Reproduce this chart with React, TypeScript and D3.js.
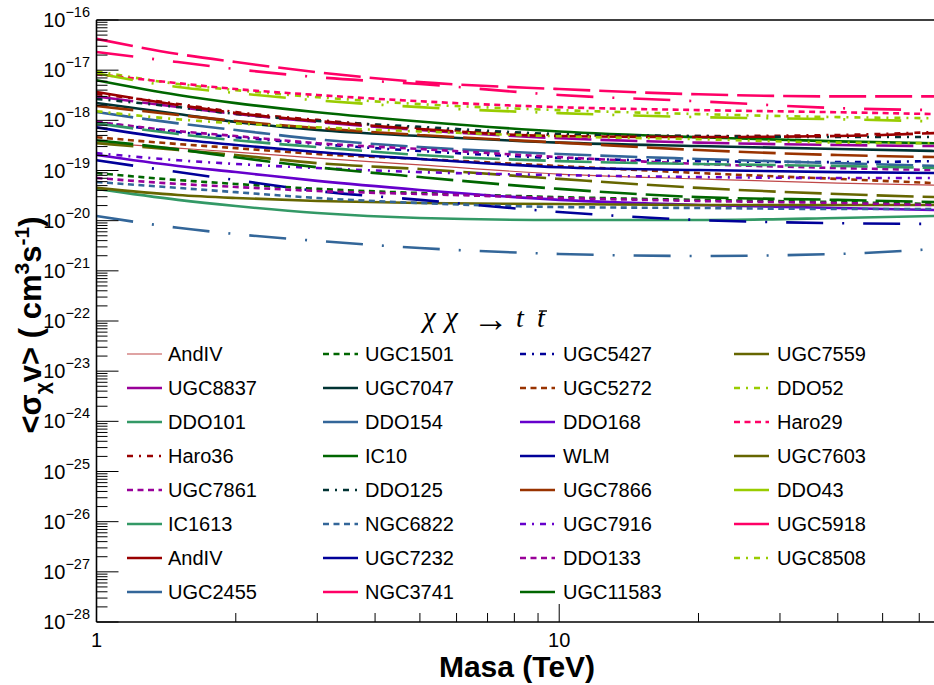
import React from "react";
import * as d3 from "d3";

// Mass grid (TeV)
const masses = [1, 1.5, 2, 3, 5, 10, 20, 40, 65];

// <sigma v> upper limits (cm^3 s^-1)
const AndIVthinVals = [3.6e-19, 2.79e-19, 2.33e-19, 1.77e-19, 1.29e-19, 8.5e-20, 6.8e-20, 5.6e-20, 5.1e-20];
const UGC1501Vals = [8.9e-20, 6.45e-20, 5.4e-20, 4.3e-20, 3.56e-20, 2.95e-20, 2.6e-20, 2.35e-20, 2.15e-20];
const UGC5427Vals = [9.3e-19, 5.85e-19, 4.6e-19, 3.37e-19, 2.45e-19, 1.77e-19, 1.54e-19, 1.47e-19, 1.54e-19];
const UGC7559Vals = [3.5e-19, 2.56e-19, 2.03e-19, 1.4e-19, 1.07e-19, 6.8e-20, 4.5e-20, 3.4e-20, 2.95e-20];
const UGC8837Vals = [2.99e-18, 1.84e-18, 1.34e-18, 9.3e-19, 6.4e-19, 4.4e-19, 3.6e-19, 3.22e-19, 3.07e-19];
const UGC7047Vals = [2.22e-18, 1.34e-18, 9.3e-19, 6.4e-19, 4.86e-19, 3.6e-19, 3.07e-19, 2.68e-19, 2.45e-19];
const UGC5272Vals = [4.6e-19, 3.37e-19, 2.79e-19, 2.13e-19, 1.7e-19, 1.23e-19, 8.9e-20, 6.8e-20, 5.6e-20];
const DDO52Vals = [9.5e-18, 5.3e-18, 4.0e-18, 2.9e-18, 2.1e-18, 1.6e-18, 1.33e-18, 1.16e-18, 1.1e-18];
const DDO101Vals = [4.3e-20, 2.6e-20, 1.96e-20, 1.42e-20, 1.13e-20, 1.03e-20, 1.03e-20, 1.13e-20, 1.24e-20];
const DDO154Vals = [1.46e-18, 8.7e-19, 6.4e-19, 4.2e-19, 2.93e-19, 2.13e-19, 1.7e-19, 1.4e-19, 1.23e-19];
const DDO168Vals = [2.03e-19, 1.23e-19, 9.3e-20, 6.2e-20, 4.1e-20, 2.6e-20, 2.05e-20, 1.79e-20, 1.63e-20];
const Haro29Vals = [8.3e-18, 5.5e-18, 4.2e-18, 3.2e-18, 2.4e-18, 1.83e-18, 1.6e-18, 1.45e-18, 1.33e-18];
const Haro36Vals = [3.35e-18, 2.12e-18, 1.46e-18, 1.02e-18, 7.0e-19, 5.1e-19, 4.86e-19, 5.1e-19, 5.85e-19];
const IC10Vals = [6.3e-18, 3.2e-18, 2.2e-18, 1.45e-18, 9.5e-19, 6.0e-19, 4.6e-19, 3.8e-19, 3.5e-19];
const WLMVals = [7.25e-19, 4.2e-19, 3.22e-19, 2.33e-19, 1.7e-19, 1.16e-19, 1.02e-19, 9.3e-20, 8.9e-20];
const UGC7603Vals = [4.5e-20, 3.25e-20, 2.83e-20, 2.47e-20, 2.25e-20, 2.15e-20, 2.05e-20, 2.05e-20, 2.05e-20];
const UGC7861Vals = [9.3e-19, 6.1e-19, 4.86e-19, 3.5e-19, 2.68e-19, 1.85e-19, 1.35e-19, 1.12e-19, 1.02e-19];
const DDO125Vals = [2.67e-18, 1.84e-18, 1.34e-18, 9.7e-19, 7.4e-19, 5.33e-19, 4.86e-19, 4.65e-19, 4.65e-19];
const UGC7866Vals = [1.93e-18, 1.28e-18, 9.7e-19, 7.0e-19, 5.1e-19, 3.6e-19, 2.56e-19, 2.03e-19, 1.85e-19];
const DDO43Vals = [8.7e-18, 4.6e-18, 3.5e-18, 2.5e-18, 1.83e-18, 1.39e-18, 1.16e-18, 1.05e-18, 9.5e-19];
const IC1613Vals = [8.7e-19, 5.33e-19, 4.0e-19, 2.93e-19, 2.03e-19, 1.54e-19, 1.35e-19, 1.23e-19, 1.12e-19];
const NGC6822Vals = [5.9e-20, 4.5e-20, 3.7e-20, 2.83e-20, 2.25e-20, 1.87e-20, 1.79e-20, 1.71e-20, 1.71e-20];
const UGC7916Vals = [2.22e-19, 1.6e-19, 1.35e-19, 1.12e-19, 9.3e-20, 8.1e-20, 7.4e-20, 7.1e-20, 7.1e-20];
const UGC5918Vals = [4.2e-17, 2.1e-17, 1.45e-17, 9.1e-18, 5.8e-18, 4.2e-18, 3.3e-18, 3.0e-18, 3.0e-18];
const AndIVVals = [3.67e-18, 2.02e-18, 1.4e-18, 9.7e-19, 6.7e-19, 4.86e-19, 4.65e-19, 4.86e-19, 5.58e-19];
const UGC7232Vals = [1.6e-19, 9.3e-20, 6.45e-20, 3.9e-20, 2.6e-20, 1.49e-20, 1.03e-20, 8.9e-21, 8.6e-21];
const DDO133Vals = [7.1e-20, 5.4e-20, 4.7e-20, 3.9e-20, 3.4e-20, 2.83e-20, 2.47e-20, 2.25e-20, 2.05e-20];
const UGC8508Vals = [1.52e-18, 1.05e-18, 8.7e-19, 7.25e-19, 6.0e-19, 4.8e-19, 4.2e-19, 3.6e-19, 3.5e-19];
const UGC2455Vals = [1.24e-20, 7.2e-21, 5.4e-21, 3.95e-21, 2.85e-21, 2.17e-21, 1.98e-21, 2.17e-21, 2.73e-21];
const NGC3741Vals = [2.3e-17, 1.45e-17, 1.05e-17, 7.25e-18, 5.3e-18, 3.2e-18, 2.4e-18, 1.75e-18, 1.6e-18];
const UGC11583Vals = [4.0e-19, 2.64e-19, 1.83e-19, 1.16e-19, 7.4e-20, 4.3e-20, 2.95e-20, 2.6e-20, 2.35e-20];

const yTickExponents = [-28, -27, -26, -25, -24, -23, -22, -21, -20, -19, -18, -17, -16];
const xMajorTicks = [1, 10];
const xMinorTicks = [2, 3, 4, 5, 6, 7, 8, 9, 20, 30, 40, 50, 60];

const DASH: Record<string, string> = {
  solid: "none",
  dash: "6 4.5",
  dashdot: "6 6 2 6",
  long: "37 9",
  longdot: "37 19 2 19",
};

type Series = { name: string; values: number[]; color: string; style: string; width?: number };

// legend order (row-major, 4 columns)
const series: Series[] = [
  { name: "AndIV", values: AndIVthinVals, color: "#c04848", style: "solid", width: 1.2 },
  { name: "UGC1501", values: UGC1501Vals, color: "#006600", style: "dash" },
  { name: "UGC5427", values: UGC5427Vals, color: "#000099", style: "dashdot" },
  { name: "UGC7559", values: UGC7559Vals, color: "#666600", style: "long" },
  { name: "UGC8837", values: UGC8837Vals, color: "#990099", style: "long" },
  { name: "UGC7047", values: UGC7047Vals, color: "#003333", style: "solid" },
  { name: "UGC5272", values: UGC5272Vals, color: "#993300", style: "dash" },
  { name: "DDO52", values: DDO52Vals, color: "#99cc00", style: "dashdot" },
  { name: "DDO101", values: DDO101Vals, color: "#339966", style: "solid" },
  { name: "DDO154", values: DDO154Vals, color: "#336699", style: "long" },
  { name: "DDO168", values: DDO168Vals, color: "#6600cc", style: "solid" },
  { name: "Haro29", values: Haro29Vals, color: "#ff0066", style: "dash" },
  { name: "Haro36", values: Haro36Vals, color: "#990000", style: "dashdot" },
  { name: "IC10", values: IC10Vals, color: "#006600", style: "solid" },
  { name: "WLM", values: WLMVals, color: "#000099", style: "solid" },
  { name: "UGC7603", values: UGC7603Vals, color: "#666600", style: "solid" },
  { name: "UGC7861", values: UGC7861Vals, color: "#990099", style: "dash" },
  { name: "DDO125", values: DDO125Vals, color: "#003333", style: "dashdot" },
  { name: "UGC7866", values: UGC7866Vals, color: "#993300", style: "long" },
  { name: "DDO43", values: DDO43Vals, color: "#99cc00", style: "longdot" },
  { name: "IC1613", values: IC1613Vals, color: "#339966", style: "long" },
  { name: "NGC6822", values: NGC6822Vals, color: "#336699", style: "dash" },
  { name: "UGC7916", values: UGC7916Vals, color: "#6600cc", style: "dashdot" },
  { name: "UGC5918", values: UGC5918Vals, color: "#ff0066", style: "long" },
  { name: "AndIV", values: AndIVVals, color: "#990000", style: "long" },
  { name: "UGC7232", values: UGC7232Vals, color: "#000099", style: "longdot" },
  { name: "DDO133", values: DDO133Vals, color: "#990099", style: "dash" },
  { name: "UGC8508", values: UGC8508Vals, color: "#99cc00", style: "dashdot" },
  { name: "UGC2455", values: UGC2455Vals, color: "#336699", style: "longdot" },
  { name: "NGC3741", values: NGC3741Vals, color: "#ff0066", style: "longdot" },
  { name: "UGC11583", values: UGC11583Vals, color: "#006600", style: "long" },
];

const W = 934;
const H = 685;
const X0 = 96.5;
const X1 = 937.5;
const Y0 = 20;
const Y1 = 622;
const FONT = "'Liberation Sans', Arial, Helvetica, sans-serif";
const SERIF = "'Liberation Serif', 'Times New Roman', serif";

export default function App() {
  const x = d3.scaleLog().domain([1, 65.7]).range([X0, X1]);
  const y = d3.scaleLog().domain([1e-28, 1e-16]).range([Y1, Y0]);
  const line = d3
    .line<[number, number]>()
    .x((d) => x(d[0]))
    .y((d) => y(d[1]))
    .curve(d3.curveMonotoneX);

  const yMinor: number[] = [];
  for (let e = -28; e < -16; e++) for (let m = 2; m <= 9; m++) yMinor.push(m * Math.pow(10, e));

  const colX = [127, 323, 520, 734];
  const textX = [168, 365, 563, 777];
  const rowY0 = 354;
  const rowDy = 34;

  return (
    <svg
      width={W}
      height={H}
      style={{ position: "absolute", left: 0, top: 0, background: "#fff" }}
      fontFamily={FONT}
    >
      <rect x={0} y={0} width={W} height={H} fill="#fff" />
      <defs>
        <clipPath id="plotclip">
          <rect x={X0} y={Y0} width={W - X0} height={Y1 - Y0} />
        </clipPath>
      </defs>

      {/* curves */}
      <g clipPath="url(#plotclip)">
        {series.map((s, i) => (
          <path
            key={i}
            d={line(masses.map((m, j) => [m, s.values[j]] as [number, number])) || ""}
            fill="none"
            stroke={s.color}
            strokeWidth={s.width ?? 2.6}
            strokeDasharray={DASH[s.style]}
          />
        ))}
      </g>

      {/* frame */}
      <g stroke="#000" strokeWidth={1.6} fill="none">
        <line x1={X0} y1={Y0} x2={W} y2={Y0} />
        <line x1={X0} y1={Y1} x2={W} y2={Y1} />
        <line x1={X0} y1={Y0} x2={X0} y2={Y1} />
      </g>

      {/* y ticks */}
      <g stroke="#000" strokeWidth={1}>
        {yTickExponents.map((e) => (
          <line key={"ym" + e} x1={X0} x2={X0 + 22} y1={y(Math.pow(10, e))} y2={y(Math.pow(10, e))} />
        ))}
        {yMinor.map((v, i) => (
          <line key={"yn" + i} x1={X0} x2={X0 + 11} y1={y(v)} y2={y(v)} />
        ))}
      </g>
      {/* x ticks */}
      <g stroke="#000" strokeWidth={1}>
        {xMajorTicks.map((v) => (
          <line key={"xm" + v} x1={x(v)} x2={x(v)} y1={Y1} y2={Y1 - 18} />
        ))}
        {xMinorTicks.map((v) => (
          <line key={"xn" + v} x1={x(v)} x2={x(v)} y1={Y1} y2={Y1 - 9} />
        ))}
      </g>

      {/* y tick labels */}
      {yTickExponents.map((e) => {
        const yy = y(Math.pow(10, e));
        return (
          <text key={"yl" + e} x={90} y={yy + 7} textAnchor="end" fontSize={20} fill="#000">
            10
            <tspan dy={-10} fontSize={14.5}>
              {"\u2212" + Math.abs(e)}
            </tspan>
          </text>
        );
      })}

      {/* x tick labels */}
      {xMajorTicks.map((v) => (
        <text key={"xl" + v} x={x(v)} y={647} textAnchor="middle" fontSize={20} fill="#000">
          {String(v)}
        </text>
      ))}

      {/* axis titles */}
      <text x={517} y={677} textAnchor="middle" fontSize={30} fontWeight="bold" fill="#000">
        Masa (TeV)
      </text>
      <text
        transform={`translate(41, 325) rotate(-90)`}
        textAnchor="middle"
        fontSize={31}
        fontWeight="bold"
        fill="#000"
      >
        {"<\u03C3"}
        <tspan dy={8} fontSize={21}>{"\u03C7"}</tspan>
        <tspan dy={-8}>{"v> ( cm"}</tspan>
        <tspan dy={-12} fontSize={21}>3</tspan>
        <tspan dy={12}>s</tspan>
        <tspan dy={-12} fontSize={21}>-1</tspan>
        <tspan dy={12}>)</tspan>
      </text>

      {/* process label */}
      <text y={327} fontSize={29} fill="#000" fontFamily={SERIF} fontStyle="italic">
        <tspan x={423}>{"\u03C7"}</tspan>
        <tspan x={445}>{"\u03C7"}</tspan>
      </text>
      <text x={473} y={331} fontSize={36} fill="#000" fontFamily={SERIF}>
        {"\u2192"}
      </text>
      <text y={327} fontSize={28} fill="#000" fontFamily={SERIF} fontStyle="italic">
        <tspan x={516}>t</tspan>
        <tspan x={537}>t</tspan>
      </text>
      <line x1={539} x2={547} y1={311} y2={311} stroke="#000" strokeWidth={1.4} />

      {/* legend */}
      {series.map((s, i) => {
        const col = i % 4;
        const row = Math.floor(i / 4);
        const yy = rowY0 + row * rowDy;
        return (
          <g key={"lg" + i}>
            <line
              x1={colX[col]}
              x2={colX[col] + 35}
              y1={yy}
              y2={yy}
              stroke={s.color}
              strokeWidth={s.width ?? 2.6}
              strokeDasharray={DASH[s.style]}
            />
            <text x={textX[col]} y={yy + 7} fontSize={20} fill="#000">
              {s.name}
            </text>
          </g>
        );
      })}
    </svg>
  );
}
